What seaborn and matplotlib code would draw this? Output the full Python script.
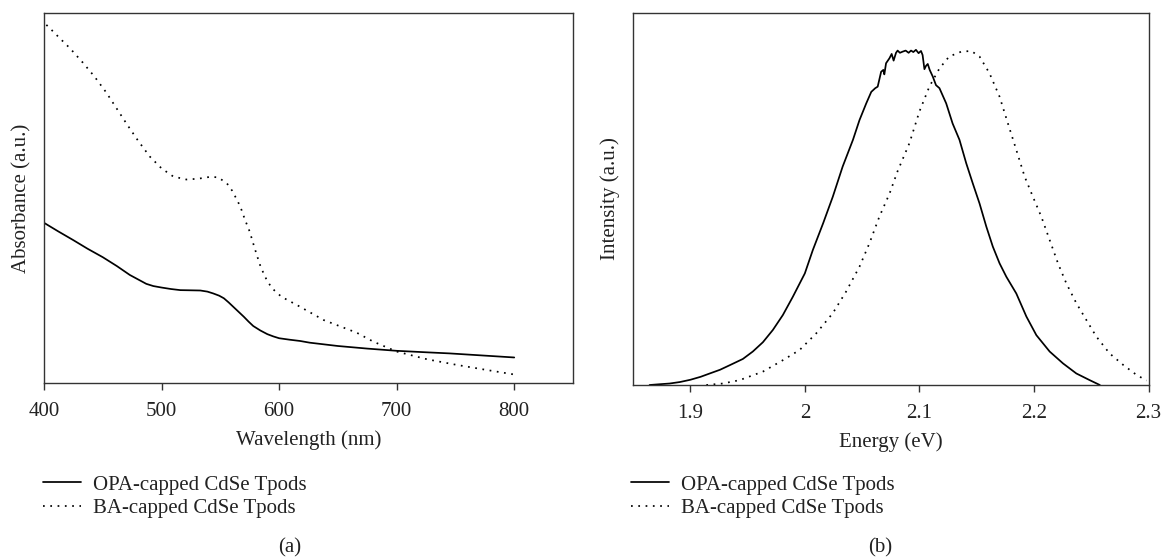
import numpy as np
import pandas as pd
import matplotlib
matplotlib.use("Agg")
import matplotlib.pyplot as plt
import seaborn as sns

# ---------------- data ----------------
# (a) Absorbance spectra
abs_opa_wl = [400, 412, 425, 437, 450, 462, 473, 480, 487, 493, 500, 508, 516, 525, 533,
              539, 544, 549, 553, 557, 561, 565, 570, 574, 578, 584, 590, 595, 600, 609,
              618, 626, 650, 675, 700, 725, 745, 770, 800]
abs_opa_val = [0.433, 0.410, 0.386, 0.363, 0.340, 0.316, 0.292, 0.280, 0.268, 0.262,
               0.258, 0.254, 0.251, 0.2505, 0.250, 0.247, 0.242, 0.236, 0.229, 0.218,
               0.206, 0.194, 0.179, 0.166, 0.154, 0.142, 0.132, 0.126, 0.121, 0.117,
               0.1135, 0.109, 0.100, 0.093, 0.087, 0.083, 0.080, 0.075, 0.069]

abs_ba_wl = [402, 406.5, 414, 422, 433, 443, 453, 462, 471, 480, 490, 500, 510, 521, 531,
             541, 548, 555.5, 560, 565, 568, 571, 575, 578, 581, 584.4, 589.5, 594, 602,
             615, 624, 638, 666, 680, 700, 726, 751, 777, 800]
abs_ba_val = [0.968, 0.954, 0.930, 0.905, 0.866, 0.828, 0.785, 0.741, 0.697, 0.655, 0.612,
              0.580, 0.558, 0.550, 0.552, 0.557, 0.556, 0.540, 0.520, 0.490, 0.468, 0.441,
              0.409, 0.377, 0.346, 0.313, 0.278, 0.256, 0.233, 0.211, 0.195, 0.170, 0.136,
              0.112, 0.085, 0.064, 0.049, 0.035, 0.023]

# (b) Photoluminescence spectra
pl_opa_e = [1.8645, 1.873, 1.882, 1.891, 1.900, 1.909, 1.917, 1.926, 1.9343, 1.9459,
            1.9546, 1.9634, 1.9721, 1.9808, 1.9895, 2.000,
            2.007, 2.016, 2.0244, 2.033, 2.042, 2.0477, 2.0536, 2.058, 2.0615, 2.0636,
            2.0666, 2.0685, 2.0694, 2.0709, 2.0738, 2.0758, 2.0775, 2.0796, 2.081, 2.083,
            2.0853, 2.088, 2.0906, 2.0927, 2.0947, 2.097, 2.0993, 2.1014, 2.1028, 2.1044,
            2.1058, 2.1073, 2.109, 2.1117, 2.1145, 2.1175, 2.1234, 2.129, 2.135, 2.1409,
            2.1466, 2.1525, 2.1584, 2.1641, 2.170, 2.1759, 2.1846, 2.1934, 2.2021, 2.2137,
            2.2254, 2.237, 2.2487, 2.2575]
pl_opa_val = [0.000, 0.002, 0.004, 0.008, 0.014, 0.022, 0.031, 0.041, 0.053, 0.070,
              0.090, 0.115, 0.148, 0.188, 0.237, 0.300,
              0.363, 0.435, 0.506, 0.587, 0.659, 0.712, 0.757, 0.788, 0.798, 0.802,
              0.842, 0.847, 0.835, 0.865, 0.878, 0.890, 0.872, 0.893, 0.899, 0.893,
              0.896, 0.899, 0.893, 0.899, 0.895, 0.901, 0.892, 0.898, 0.887, 0.849,
              0.858, 0.863, 0.847, 0.829, 0.806, 0.798, 0.757, 0.703, 0.659, 0.596,
              0.542, 0.488, 0.426, 0.372, 0.327, 0.291, 0.246, 0.184, 0.134, 0.090,
              0.058, 0.031, 0.013, 0.000]

pl_ba_e = [1.914, 1.9284, 1.943, 1.9634, 1.981, 1.9954, 2.010, 2.0244, 2.036, 2.0477, 2.0564,
           2.065, 2.074, 2.081, 2.0913, 2.100, 2.1087, 2.1175, 2.126, 2.1365, 2.1452,
           2.1525, 2.1612, 2.170, 2.1773, 2.1846, 2.1919, 2.1991, 2.2065, 2.2137, 2.221,
           2.2283, 2.237, 2.2457, 2.2545, 2.266, 2.2779, 2.2896, 2.2983]
pl_ba_val = [0.000, 0.004, 0.013, 0.036, 0.067, 0.094, 0.139, 0.193, 0.251, 0.318, 0.381,
             0.452, 0.515, 0.575, 0.650, 0.735, 0.802, 0.851, 0.883, 0.896, 0.898,
             0.883, 0.838, 0.775, 0.703, 0.632, 0.560, 0.506, 0.452, 0.390, 0.327,
             0.273, 0.220, 0.175, 0.130, 0.085, 0.054, 0.027, 0.012]

series_names = ["OPA-capped CdSe Tpods", "BA-capped CdSe Tpods"]
abs_ticks = [400, 500, 600, 700, 800]
pl_ticks = [1.9, 2.0, 2.1, 2.2, 2.3]
pl_tick_labels = ["1.9", "2", "2.1", "2.2", "2.3"]

# ---------------- style ----------------
sns.set_theme(style="ticks")
plt.rcParams["font.family"] = ["Liberation Serif", "DejaVu Serif"]
plt.rcParams["text.color"] = "#222222"
plt.rcParams["axes.labelcolor"] = "#222222"
plt.rcParams["xtick.color"] = "#333333"
plt.rcParams["xtick.labelcolor"] = "#222222"
plt.rcParams["lines.solid_joinstyle"] = "round"

FS = 15
fig = plt.figure(figsize=(11.61, 5.57), dpi=100)
W, H = 1161, 557

def ax_rect(x0, x1, ytop, ybot):
    return [x0 / W, (H - ybot) / H, (x1 - x0) / W, (ybot - ytop) / H]

axA = fig.add_axes(ax_rect(44, 573, 13, 383))
axB = fig.add_axes(ax_rect(633, 1148.5, 13, 385))

dfA = pd.concat([
    pd.DataFrame({"x": abs_opa_wl, "y": abs_opa_val, "s": series_names[0]}),
    pd.DataFrame({"x": abs_ba_wl, "y": abs_ba_val, "s": series_names[1]}),
])
dfB = pd.concat([
    pd.DataFrame({"x": pl_opa_e, "y": pl_opa_val, "s": series_names[0]}),
    pd.DataFrame({"x": pl_ba_e, "y": pl_ba_val, "s": series_names[1]}),
])

dash_map = {series_names[0]: "", series_names[1]: (1, 3.2)}
pal = {series_names[0]: "black", series_names[1]: "black"}

for ax, df in ((axA, dfA), (axB, dfB)):
    sns.lineplot(data=df, x="x", y="y", hue="s", style="s", dashes=dash_map,
                 palette=pal, estimator=None, sort=False, linewidth=1.25, ax=ax,
                 legend=True)

axA.set_xlim(400, 850)
axA.set_ylim(0, 1)
axB.set_xlim(1.85, 2.3)
axB.set_ylim(0, 1)

axA.set_xticks(abs_ticks)
axB.set_xticks(pl_ticks)
axB.set_xticklabels(pl_tick_labels)

for ax in (axA, axB):
    ax.set_yticks([])
    for sp in ax.spines.values():
        sp.set_visible(True)
        sp.set_color("#333333")
        sp.set_linewidth(1.0)
    ax.tick_params(axis="x", direction="out", length=5, width=1.0, labelsize=FS, pad=9)

axA.set_xlabel("Wavelength (nm)", fontsize=FS, labelpad=6)
axA.set_ylabel("Absorbance (a.u.)", fontsize=FS, labelpad=9)
axB.set_xlabel("Energy (eV)", fontsize=FS, labelpad=6)
axB.set_ylabel("Intensity (a.u.)", fontsize=FS, labelpad=9)

# legends below the axes
for ax, x0 in ((axA, 43), (axB, 631)):
    h, l = ax.get_legend_handles_labels()
    ax.legend(h, l, loc="upper left", bbox_to_anchor=(x0 / W, 1 - 475 / H),
              bbox_transform=fig.transFigure, frameon=False, fontsize=FS,
              handlelength=1.8, handletextpad=0.6, borderpad=0, borderaxespad=0,
              labelspacing=0.2)

fig.text(290 / W, 1 - 548 / H, "(a)", ha="center", va="center", fontsize=FS)
fig.text(880 / W, 1 - 548 / H, "(b)", ha="center", va="center", fontsize=FS)

fig.savefig("out.png", dpi=100, facecolor="white")
